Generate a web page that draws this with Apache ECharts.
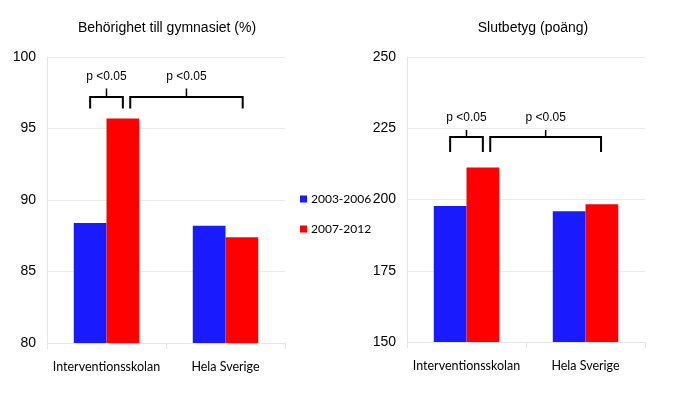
<!DOCTYPE html>
<html><head><meta charset="utf-8">
<script src="https://cdn.jsdelivr.net/npm/echarts@6/dist/echarts.min.js"></script>
<style>html,body{margin:0;padding:0;background:#fff}#c{width:675px;height:396px}</style>
</head><body><div id="c"></div>
<script>
// ---- data ----
const categories = ['Interventionsskolan', 'Hela Sverige'];
const seriesNames = ['2003-2006', '2007-2012'];
const titles = ['Behörighet till gymnasiet (%)', 'Slutbetyg (poäng)'];
const behorighet2003 = [88.4, 88.2];
const behorighet2007 = [95.7, 87.4];
const slutbetyg2003 = [197.7, 195.9];
const slutbetyg2007 = [211.2, 198.3];
const leftTicks = [80, 85, 90, 95, 100];
const rightTicks = [150, 175, 200, 225, 250];
const sigLabel = 'p <0.05';
// brackets: [startCat, startOffset(half-bars), endCat, endOffset(half-bars), top, bottom, tickTop, textY]
const leftBrackets = [
  [0, -1, 0, 1, 97.2, 96.4, 97.8, 98.6],
  [0, 1.45, 1, 1.05, 97.2, 96.4, 97.8, 98.6]
];
const rightBrackets = [
  [0, -1, 0, 1, 221.9, 216.7, 224.4, 228.6],
  [0, 1.45, 1, 0.95, 221.9, 216.7, 224.4, 228.6]
];

const BLUE = '#1a1aff', RED = '#ff0000';
const narrow = '"Liberation Sans Narrow", "Arial Narrow", "Liberation Sans", sans-serif';
const calib = 'Lato, "Open Sans", sans-serif';
const GAP = 0.45;

function bracketRender(params, api) {
  const c0 = api.coord([0, api.value(4)]);
  const c1 = api.coord([1, api.value(4)]);
  const catW = c1[0] - c0[0];
  const halfBar = catW * (1 - GAP) / 4;
  const cx = i => api.coord([api.value(i), api.value(4)])[0];
  const x1 = cx(0) + api.value(1) * halfBar;
  const x2 = cx(2) + api.value(3) * halfBar;
  const yTop = api.coord([0, api.value(4)])[1];
  const yBot = api.coord([0, api.value(5)])[1];
  const yTick = api.coord([0, api.value(6)])[1];
  const yText = api.coord([0, api.value(7)])[1];
  const mid = (x1 + x2) / 2;
  return {
    type: 'group',
    children: [
      { type: 'polyline', shape: { points: [[x1, yBot], [x1, yTop], [x2, yTop], [x2, yBot]] }, style: { stroke: '#000', lineWidth: 2, fill: null } },
      { type: 'line', shape: { x1: mid, y1: yTop, x2: mid, y2: yTick }, style: { stroke: '#000', lineWidth: 1.5 } },
      { type: 'text', x: mid, y: yText, style: { text: sigLabel, fill: '#000', font: '12px ' + narrow, align: 'center', verticalAlign: 'middle' } }
    ]
  };
}

function yAxis(idx, ticks) {
  return {
    gridIndex: idx, type: 'value', min: ticks[0], max: ticks[ticks.length - 1], interval: ticks[1] - ticks[0],
    axisLine: { show: true, lineStyle: { color: '#e6e6e6' } },
    axisTick: { show: false },
    splitLine: { lineStyle: { color: '#ececec' } },
    axisLabel: { color: '#000', fontSize: 14, fontFamily: narrow, margin: 11 }
  };
}
function xAxis(idx) {
  return {
    gridIndex: idx, type: 'category', data: categories,
    axisLine: { lineStyle: { color: '#e6e6e6' } },
    axisTick: { show: true, length: 6, lineStyle: { color: '#e6e6e6' } },
    axisLabel: { color: '#000', fontSize: 12.5, fontFamily: calib, margin: 17, interval: 0 }
  };
}
function bar(name, idx, data, color) {
  return { name, type: 'bar', xAxisIndex: idx, yAxisIndex: idx, data, barGap: '0%', barCategoryGap: (GAP * 100) + '%',
    itemStyle: { color }, silent: true, animation: false };
}

const chart = echarts.init(document.getElementById('c'));
chart.setOption({
  animation: false,
  backgroundColor: '#fff',
  title: [
    { text: titles[0], left: 162, top: 16, textAlign: 'center', textStyle: { fontFamily: narrow, fontSize: 14, fontWeight: 'normal', color: '#000' } },
    { text: titles[1], left: 528, top: 16, textAlign: 'center', textStyle: { fontFamily: narrow, fontSize: 14, fontWeight: 'normal', color: '#000' } }
  ],
  legend: {
    data: seriesNames, orient: 'vertical', left: 295, top: 188, itemGap: 18,
    itemWidth: 7, itemHeight: 7, icon: 'rect',
    textStyle: { fontFamily: calib, fontSize: 12, color: '#000', padding: [0, 0, 0, -1] }
  },
  grid: [
    { left: 47, width: 238, top: 57, bottom: 53 },
    { left: 407, width: 238, top: 57, bottom: 54 }
  ],
  xAxis: [xAxis(0), xAxis(1)],
  yAxis: [yAxis(0, leftTicks), yAxis(1, rightTicks)],
  series: [
    bar(seriesNames[0], 0, behorighet2003, BLUE),
    bar(seriesNames[1], 0, behorighet2007, RED),
    bar(seriesNames[0], 1, slutbetyg2003, BLUE),
    bar(seriesNames[1], 1, slutbetyg2007, RED),
    { type: 'custom', xAxisIndex: 0, yAxisIndex: 0, data: leftBrackets, renderItem: bracketRender, encode: { x: 0, y: 4 }, silent: true, z: 5 },
    { type: 'custom', xAxisIndex: 1, yAxisIndex: 1, data: rightBrackets, renderItem: bracketRender, encode: { x: 0, y: 4 }, silent: true, z: 5 }
  ]
});
</script></body></html>
